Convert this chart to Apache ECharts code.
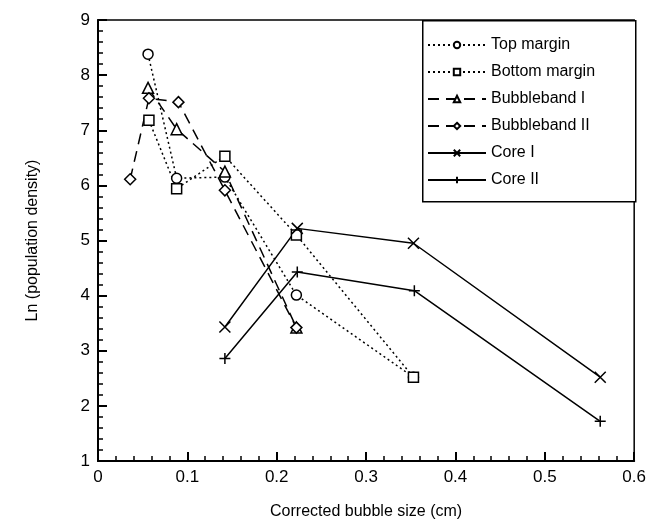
<!DOCTYPE html>
<html>
<head>
<meta charset="utf-8">
<script src="https://cdn.jsdelivr.net/npm/echarts@6/dist/echarts.min.js"></script>
<style>html,body{margin:0;padding:0;background:#fff}#c{width:649px;height:529px}</style>
</head>
<body>
<div id="c"></div>
<script>
const seriesNames = ['Top margin', 'Bottom margin', 'Bubbleband I', 'Bubbleband II', 'Core I', 'Core II'];
const topMarginX = [0.056, 0.088, 0.142, 0.222, 0.353];
const topMarginY = [8.38, 6.13, 6.15, 4.01, 2.52];
const bottomMarginX = [0.057, 0.088, 0.142, 0.222, 0.353];
const bottomMarginY = [7.18, 5.94, 6.53, 5.10, 2.52];
const bubblebandIX = [0.056, 0.088, 0.142, 0.222];
const bubblebandIY = [7.77, 7.02, 6.25, 3.42];
const bubblebandIIX = [0.036, 0.057, 0.090, 0.142, 0.222];
const bubblebandIIY = [6.11, 7.58, 7.51, 5.91, 3.42];
const coreIX = [0.142, 0.223, 0.353, 0.562];
const coreIY = [3.43, 5.22, 4.95, 2.52];
const coreIIX = [0.142, 0.223, 0.354, 0.562];
const coreIIY = [2.86, 4.43, 4.09, 1.72];
const xTicks = [0, 0.1, 0.2, 0.3, 0.4, 0.5, 0.6];
const yTicks = [1, 2, 3, 4, 5, 6, 7, 8, 9];

const zip = (xs, ys) => xs.map((x, i) => [x, ys[i]]);
const FONT = 'Liberation Sans';
const crossPath = 'path://M0,0L10,10M10,0L0,10';
const plusPath = 'path://M5,0L5,10M0,5L10,5';

const lineDotted = { color: '#000', width: 1.5, type: [2, 3] };
const lineDashed = { color: '#000', width: 1.5, type: [11, 7] };
const lineSolid = { color: '#000', width: 1.5, type: 'solid' };
const openMarker = { color: '#fff', borderColor: '#000', borderWidth: 1.5 };

function mk(name, xs, ys, symbol, size, ls) {
  return {
    name, type: 'line', data: zip(xs, ys), symbol, symbolSize: size,
    showAllSymbol: true, lineStyle: ls, itemStyle: openMarker,
    emphasis: { disabled: true }, animation: false, z: 3
  };
}

const tickStyle = { color: '#000', width: 2 };

const chart = echarts.init(document.getElementById('c'), null, { renderer: 'canvas' });
chart.setOption({
  animation: false,
  backgroundColor: '#fff',
  textStyle: { fontFamily: FONT },
  grid: { left: 98, right: 13, top: 20, bottom: 68, show: true, borderColor: '#000', borderWidth: 1.5, backgroundColor: 'transparent' },
  xAxis: {
    type: 'value', min: xTicks[0], max: xTicks[xTicks.length - 1], interval: 0.1,
    name: 'Corrected bubble size (cm)', nameLocation: 'middle', nameGap: 43,
    nameTextStyle: { fontFamily: FONT, fontSize: 16, color: '#000' },
    axisLine: { show: true, onZero: false, lineStyle: { color: '#000', width: 2 } },
    axisTick: { show: true, inside: true, length: 9, lineStyle: tickStyle },
    minorTick: { show: true, splitNumber: 5, length: 5, lineStyle: { color: '#000', width: 1.5 } },
    axisLabel: { fontFamily: FONT, fontSize: 17, color: '#000', margin: 8, formatter: v => String(+v.toFixed(1)) },
    splitLine: { show: false }
  },
  yAxis: {
    type: 'value', min: yTicks[0], max: yTicks[yTicks.length - 1], interval: 1,
    name: 'Ln (population density)', nameLocation: 'middle', nameGap: 57,
    nameTextStyle: { fontFamily: FONT, fontSize: 16, color: '#000' },
    axisLine: { show: true, onZero: false, lineStyle: { color: '#000', width: 2 } },
    axisTick: { show: true, inside: true, length: 9, lineStyle: tickStyle },
    minorTick: { show: true, splitNumber: 5, length: 5, lineStyle: { color: '#000', width: 1.5 } },
    axisLabel: { fontFamily: FONT, fontSize: 17, color: '#000', margin: 8 },
    splitLine: { show: false }
  },
  legend: {
    orient: 'vertical', left: 427, top: 37, itemGap: 11, padding: 0,
    itemWidth: 58, itemHeight: 8, itemGap: 11, z: 10,
    textStyle: { fontFamily: FONT, fontSize: 16, color: '#000', lineHeight: 16 },
    data: seriesNames,
    selectedMode: false
  },
  graphic: [{
    type: 'rect', left: 422, top: 20, z: 5,
    shape: { width: 213, height: 181 },
    style: { fill: '#fff', stroke: '#000', lineWidth: 1.5 }
  }],
  series: [
    mk(seriesNames[0], topMarginX, topMarginY, 'circle', 10, lineDotted),
    mk(seriesNames[1], bottomMarginX, bottomMarginY, 'rect', 10, lineDotted),
    mk(seriesNames[2], bubblebandIX, bubblebandIY, 'triangle', 11, lineDashed),
    mk(seriesNames[3], bubblebandIIX, bubblebandIIY, 'diamond', 11, lineDashed),
    mk(seriesNames[4], coreIX, coreIY, crossPath, 11, lineSolid),
    mk(seriesNames[5], coreIIX, coreIIY, plusPath, 11, lineSolid)
  ]
});
</script>
</body>
</html>
